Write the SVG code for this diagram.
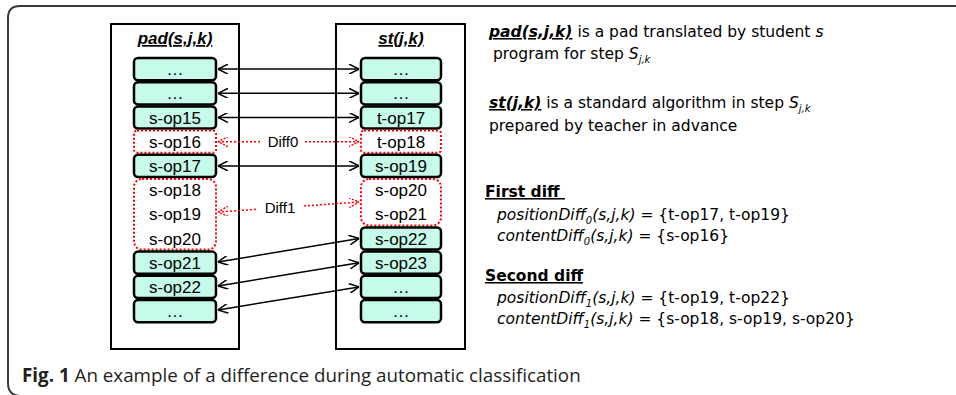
<svg xmlns="http://www.w3.org/2000/svg" width="956" height="395" viewBox="0 0 956 395">
<style>
.frame{fill:none;stroke:#3a3a3a;stroke-width:2}
.col{fill:#fff;stroke:#000;stroke-width:2}
.node{fill:#c6fbea;stroke:#000;stroke-width:2.5}
.diff{fill:#fff;stroke:#ff0000;stroke-width:2;stroke-dasharray:2 2}
.nt{font-family:"Liberation Sans",Arial,sans-serif;font-size:17px;text-anchor:middle;fill:#000}
.title{font-family:"Liberation Sans",Arial,sans-serif;font-size:17px;font-weight:bold;font-style:italic;text-decoration:underline;text-anchor:middle}
.conn{stroke:#000;stroke-width:1.5;fill:none}
.rconn{stroke:#ff0000;stroke-width:1.5;fill:none;stroke-dasharray:2 2}
.dl{font-family:"Liberation Sans",Arial,sans-serif;font-size:15px;text-anchor:middle;fill:#000}
.rt{font-family:"DejaVu Sans",Tahoma,Verdana,sans-serif;font-size:15.5px;fill:#000}
.bi{font-weight:bold;font-style:italic;text-decoration:underline}
.b{font-weight:bold;text-decoration:underline}
.i{font-style:italic}
.sub{font-size:10px;font-style:italic}
.cap{font-family:"Open Sans","Noto Sans",sans-serif;font-size:18.8px;fill:#231f20}
</style>
<defs>
<marker id="ah" viewBox="0 0 10 10" refX="10" refY="5" markerWidth="10" markerHeight="10" markerUnits="userSpaceOnUse" orient="auto-start-reverse">
<path d="M0,0 L10,5 L0,10" fill="none" stroke="#000" stroke-width="1.5"/>
</marker>
<marker id="rah" viewBox="0 0 10 10" refX="10" refY="5" markerWidth="10" markerHeight="10" markerUnits="userSpaceOnUse" orient="auto-start-reverse">
<path d="M0,0 L10,5 L0,10" fill="none" stroke="#ff0000" stroke-width="1.5" stroke-dasharray="2 1.5"/>
</marker>
</defs>
<rect width="956" height="395" fill="#fff"/>
<path class="frame" d="M960,6 H20 Q8,6 8,18 V383 Q8,396 21,396"/>

<g id="pad">
<rect class="col" x="111" y="24" width="128" height="325"/>
<text class="title" x="175" y="44">pad(s,j,k)</text>
</g>
<g id="st">
<rect class="col" x="336" y="24" width="129" height="325"/>
<text class="title" x="401" y="44">st(j,k)</text>
</g>

<g id="connectors">
<line class="conn" x1="218" y1="69.1" x2="359" y2="69.1" marker-start="url(#ah)" marker-end="url(#ah)"/>
<line class="conn" x1="218" y1="93.3" x2="359" y2="93.3" marker-start="url(#ah)" marker-end="url(#ah)"/>
<line class="conn" x1="218" y1="117.5" x2="359" y2="117.5" marker-start="url(#ah)" marker-end="url(#ah)"/>
<line class="conn" x1="218" y1="165.9" x2="359" y2="165.9" marker-start="url(#ah)" marker-end="url(#ah)"/>
<line class="conn" x1="218" y1="262" x2="359" y2="238.5" marker-start="url(#ah)" marker-end="url(#ah)"/>
<line class="conn" x1="218" y1="286" x2="359" y2="262.7" marker-start="url(#ah)" marker-end="url(#ah)"/>
<line class="conn" x1="218" y1="310" x2="359" y2="286.9" marker-start="url(#ah)" marker-end="url(#ah)"/>
<line class="rconn" x1="218" y1="141.7" x2="260" y2="141.7" marker-start="url(#rah)"/>
<line class="rconn" x1="305" y1="141.7" x2="359" y2="141.7" marker-end="url(#rah)"/>
<text class="dl" x="283" y="147">Diff0</text>
<line class="rconn" x1="218" y1="212" x2="258" y2="209.2" marker-start="url(#rah)"/>
<line class="rconn" x1="304" y1="206" x2="359" y2="202" marker-end="url(#rah)"/>
<text class="dl" x="280" y="213">Diff1</text>
</g>

<g id="left-nodes">
<g id="l0"><rect class="node" x="134" y="58" width="82" height="22.2" rx="4"/><text class="nt" x="175" y="75">…</text></g>
<g id="l1"><rect class="node" x="134" y="82.2" width="82" height="22.2" rx="4"/><text class="nt" x="175" y="99.3">…</text></g>
<g id="l2"><rect class="node" x="134" y="106.4" width="82" height="22.2" rx="4"/><text class="nt" x="175" y="123.5">s-op15</text></g>
<g id="l3"><rect class="diff" x="134" y="130.6" width="82" height="22.2" rx="3"/><text class="nt" x="175" y="147.7">s-op16</text></g>
<g id="l4"><rect class="node" x="134" y="154.8" width="82" height="22.2" rx="4"/><text class="nt" x="175" y="171.9">s-op17</text></g>
<g id="l5-7"><rect class="diff" x="134" y="179" width="82" height="70.6" rx="8"/>
<text class="nt" x="175" y="196.1">s-op18</text><text class="nt" x="175" y="220.3">s-op19</text><text class="nt" x="175" y="244.5">s-op20</text></g>
<g id="l8"><rect class="node" x="134" y="251.6" width="82" height="22.2" rx="4"/><text class="nt" x="175" y="268.7">s-op21</text></g>
<g id="l9"><rect class="node" x="134" y="275.8" width="82" height="22.2" rx="4"/><text class="nt" x="175" y="292.9">s-op22</text></g>
<g id="l10"><rect class="node" x="134" y="300" width="82" height="22.2" rx="4"/><text class="nt" x="175" y="317.1">…</text></g>
</g>

<g id="right-nodes">
<g id="r0"><rect class="node" x="361" y="58" width="80" height="22.2" rx="4"/><text class="nt" x="401" y="75">…</text></g>
<g id="r1"><rect class="node" x="361" y="82.2" width="80" height="22.2" rx="4"/><text class="nt" x="401" y="99.3">…</text></g>
<g id="r2"><rect class="node" x="361" y="106.4" width="80" height="22.2" rx="4"/><text class="nt" x="401" y="123.5">t-op17</text></g>
<g id="r3"><rect class="diff" x="361" y="130.6" width="80" height="22.2" rx="3"/><text class="nt" x="401" y="147.7">t-op18</text></g>
<g id="r4"><rect class="node" x="361" y="154.8" width="80" height="22.2" rx="4"/><text class="nt" x="401" y="171.9">s-op19</text></g>
<g id="r5-6"><rect class="diff" x="361" y="179" width="80" height="46.4" rx="8"/>
<text class="nt" x="401" y="196.1">s-op20</text><text class="nt" x="401" y="220.3">s-op21</text></g>
<g id="r7"><rect class="node" x="361" y="227.4" width="80" height="22.2" rx="4"/><text class="nt" x="401" y="244.5">s-op22</text></g>
<g id="r8"><rect class="node" x="361" y="251.6" width="80" height="22.2" rx="4"/><text class="nt" x="401" y="268.7">s-op23</text></g>
<g id="r9"><rect class="node" x="361" y="275.8" width="80" height="22.2" rx="4"/><text class="nt" x="401" y="292.9">…</text></g>
<g id="r10"><rect class="node" x="361" y="300" width="80" height="22.2" rx="4"/><text class="nt" x="401" y="317.1">…</text></g>
</g>

<g id="legend">
<text class="rt" x="489" y="37"><tspan class="bi">pad(s,j,k)</tspan> is a pad translated by student <tspan class="i">s</tspan></text>
<text class="rt" x="493" y="59">program for step <tspan class="i">S</tspan><tspan class="sub" dy="4">j,k</tspan></text>
<text class="rt" x="489" y="108"><tspan class="bi">st(j,k)</tspan> is a standard algorithm in step <tspan class="i">S</tspan><tspan class="sub" dy="4">j,k</tspan></text>
<text class="rt" x="489" y="131">prepared by teacher in advance</text>
</g>

<g id="diffs">
<text class="rt" x="485" y="197"><tspan class="b">First diff&#160;</tspan></text>
<text class="rt" x="497" y="220"><tspan class="i">positionDiff</tspan><tspan class="sub" dy="4">0</tspan><tspan class="i" dy="-4">(s,j,k)</tspan> = {t-op17, t-op19}</text>
<text class="rt" x="497" y="241"><tspan class="i">contentDiff</tspan><tspan class="sub" dy="4">0</tspan><tspan class="i" dy="-4">(s,j,k)</tspan> = {s-op16}</text>
<text class="rt" x="485" y="281"><tspan class="b">Second diff</tspan></text>
<text class="rt" x="497" y="303"><tspan class="i">positionDiff</tspan><tspan class="sub" dy="4">1</tspan><tspan class="i" dy="-4">(s,j,k)</tspan> = {t-op19, t-op22}</text>
<text class="rt" x="497" y="324"><tspan class="i">contentDiff</tspan><tspan class="sub" dy="4">1</tspan><tspan class="i" dy="-4">(s,j,k)</tspan> = {s-op18, s-op19, s-op20}</text>
</g>

<text class="cap" x="22" y="382"><tspan font-weight="bold">Fig. 1</tspan> An example of a difference during automatic classification</text>
</svg>
